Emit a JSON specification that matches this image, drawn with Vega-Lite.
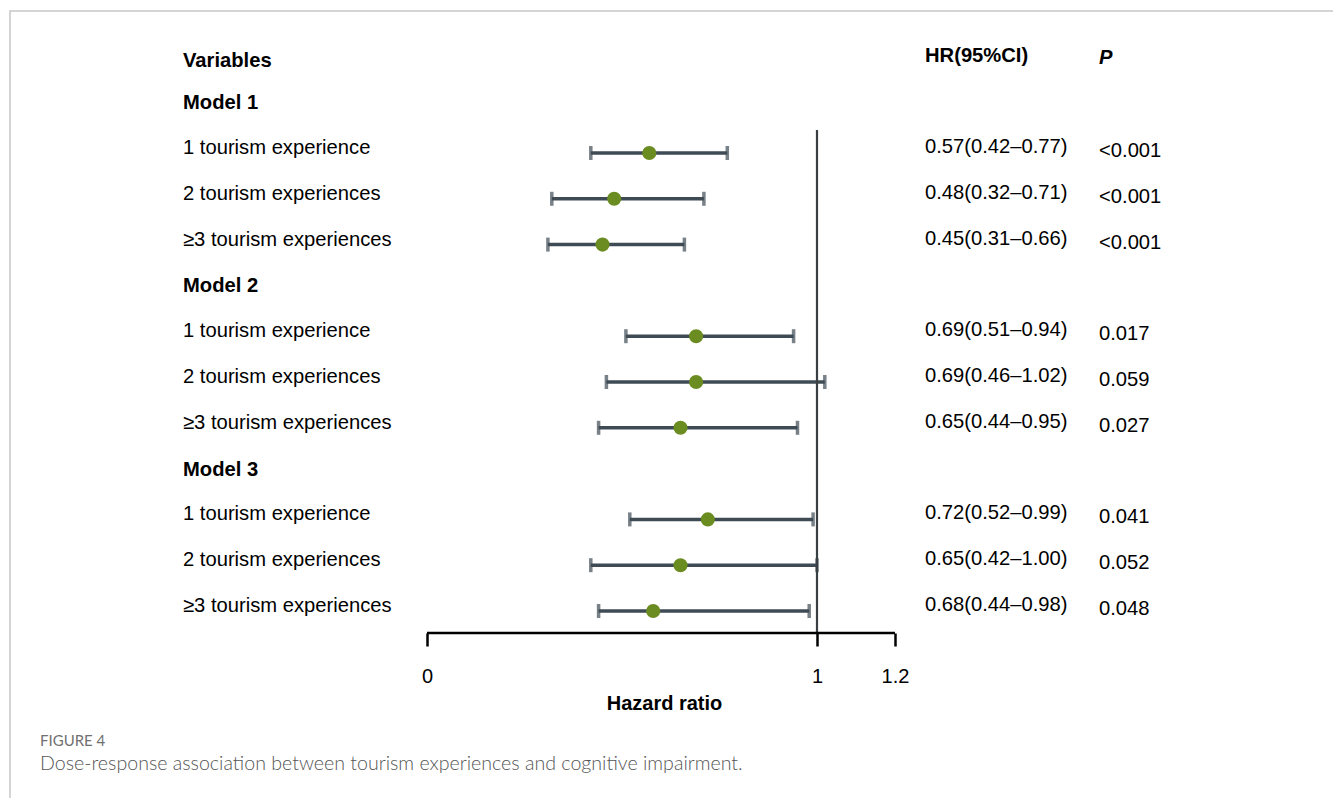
{
  "$schema": "https://vega.github.io/schema/vega-lite/v6.json",
  "width": 1330,
  "height": 800,
  "autosize": {"type": "none"},
  "padding": {"left": 10, "top": 11, "right": 0, "bottom": 0},
  "background": "white",
  "config": {
    "view": {"stroke": "#c8c8c8", "strokeWidth": 1.5},
    "font": "Liberation Sans",
    "text": {"font": "Liberation Sans", "fontSize": 20.2, "color": "#000000", "align": "left", "baseline": "middle"}
  },
  "datasets": {
    "rows": [
      {"model": "Model 1", "label": "1 tourism experience", "row": 0, "hr": 0.57, "lo": 0.42, "hi": 0.77, "hrci": "0.57(0.42–0.77)", "p": "<0.001"},
      {"model": "Model 1", "label": "2 tourism experiences", "row": 1, "hr": 0.48, "lo": 0.32, "hi": 0.71, "hrci": "0.48(0.32–0.71)", "p": "<0.001"},
      {"model": "Model 1", "label": "≥3 tourism experiences", "row": 2, "hr": 0.45, "lo": 0.31, "hi": 0.66, "hrci": "0.45(0.31–0.66)", "p": "<0.001"},
      {"model": "Model 2", "label": "1 tourism experience", "row": 4, "hr": 0.69, "lo": 0.51, "hi": 0.94, "hrci": "0.69(0.51–0.94)", "p": "0.017"},
      {"model": "Model 2", "label": "2 tourism experiences", "row": 5, "hr": 0.69, "lo": 0.46, "hi": 1.02, "hrci": "0.69(0.46–1.02)", "p": "0.059"},
      {"model": "Model 2", "label": "≥3 tourism experiences", "row": 6, "hr": 0.65, "lo": 0.44, "hi": 0.95, "hrci": "0.65(0.44–0.95)", "p": "0.027"},
      {"model": "Model 3", "label": "1 tourism experience", "row": 8, "hr": 0.72, "lo": 0.52, "hi": 0.99, "hrci": "0.72(0.52–0.99)", "p": "0.041"},
      {"model": "Model 3", "label": "2 tourism experiences", "row": 9, "hr": 0.65, "lo": 0.42, "hi": 1.00, "hrci": "0.65(0.42–1.00)", "p": "0.052"},
      {"model": "Model 3", "label": "≥3 tourism experiences", "row": 10, "hr": 0.58, "lo": 0.44, "hi": 0.98, "hrci": "0.68(0.44–0.98)", "p": "0.048"}
    ],
    "models": [
      {"text": "Model 1", "row": -1},
      {"text": "Model 2", "row": 3},
      {"text": "Model 3", "row": 7}
    ]
  },
  "layer": [
    {
      "data": {"name": "rows"},
      "mark": {"type": "rule", "color": "#3f4b54", "strokeWidth": 3.5},
      "encoding": {
        "x": {
          "field": "lo", "type": "quantitative",
          "scale": {"domain": [-1.06923, 2.34103], "nice": false, "zero": false},
          "axis": {
            "orient": "bottom", "offset": -178, "values": [0, 1, 1.2], "format": "~g",
            "domain": false, "grid": false, "ticks": true, "tickSize": 13, "tickWidth": 2.5, "tickColor": "#000000",
            "labelFontSize": 20, "labelColor": "#000000", "labelPadding": 20, "labelFlush": false, "labelOverlap": false,
            "labelFont": "Liberation Sans",
            "title": "Hazard ratio", "titleFontSize": 20, "titleFontWeight": "bold", "titleColor": "#000000",
            "titleFont": "Liberation Sans", "titlePadding": 7, "titleX": 654
          }
        },
        "x2": {"field": "hi"},
        "y": {
          "field": "row", "type": "quantitative",
          "scale": {"domain": [-3.1004, 14.3668], "reverse": true, "nice": false, "zero": false},
          "axis": null
        }
      }
    },
    {
      "data": {"name": "rows"},
      "mark": {"type": "tick", "orient": "vertical", "color": "#3f4b54", "size": 14, "thickness": 3.5},
      "encoding": {
        "x": {"field": "lo", "type": "quantitative"},
        "y": {"field": "row", "type": "quantitative"}
      }
    },
    {
      "data": {"name": "rows"},
      "mark": {"type": "tick", "orient": "vertical", "color": "#3f4b54", "size": 14, "thickness": 3.5},
      "encoding": {
        "x": {"field": "hi", "type": "quantitative"},
        "y": {"field": "row", "type": "quantitative"}
      }
    },
    {
      "data": {"values": [{"v": 1}]},
      "mark": {"type": "rule", "color": "#3a3f44", "strokeWidth": 2.2},
      "encoding": {
        "x": {"field": "v", "type": "quantitative"},
        "y": {"datum": -0.5, "type": "quantitative"},
        "y2": {"datum": 10.48}
      }
    },
    {
      "data": {"values": [{"a": 0, "b": 1.2}]},
      "mark": {"type": "rule", "color": "#000000", "strokeWidth": 2.5},
      "encoding": {
        "x": {"field": "a", "type": "quantitative"},
        "x2": {"field": "b"},
        "y": {"datum": 10.48, "type": "quantitative"}
      }
    },
    {
      "data": {"name": "rows"},
      "mark": {"type": "point", "filled": true, "shape": "circle", "color": "#6b8c21", "opacity": 1, "size": 200},
      "encoding": {
        "x": {"field": "hr", "type": "quantitative"},
        "y": {"field": "row", "type": "quantitative"}
      }
    },
    {
      "data": {"name": "rows"},
      "mark": {"type": "text", "dy": -5},
      "encoding": {
        "x": {"datum": -0.62564, "type": "quantitative"},
        "y": {"field": "row", "type": "quantitative"},
        "text": {"field": "label"}
      }
    },
    {
      "data": {"name": "rows"},
      "mark": {"type": "text", "dy": -6},
      "encoding": {
        "x": {"datum": 1.27692, "type": "quantitative"},
        "y": {"field": "row", "type": "quantitative"},
        "text": {"field": "hrci"}
      }
    },
    {
      "data": {"name": "rows"},
      "mark": {"type": "text", "dy": -2},
      "encoding": {
        "x": {"datum": 1.72308, "type": "quantitative"},
        "y": {"field": "row", "type": "quantitative"},
        "text": {"field": "p"}
      }
    },
    {
      "data": {"name": "models"},
      "mark": {"type": "text", "dy": -4, "fontWeight": "bold"},
      "encoding": {
        "x": {"datum": -0.62564, "type": "quantitative"},
        "y": {"field": "row", "type": "quantitative"},
        "text": {"field": "text"}
      }
    },
    {
      "data": {"values": [{"text": "Variables", "row": -2}]},
      "mark": {"type": "text", "dy": 0, "fontWeight": "bold"},
      "encoding": {
        "x": {"datum": -0.62564, "type": "quantitative"},
        "y": {"field": "row", "type": "quantitative"},
        "text": {"field": "text"}
      }
    },
    {
      "data": {"values": [{"text": "HR(95%CI)", "row": -2}]},
      "mark": {"type": "text", "dy": -5, "fontWeight": "bold"},
      "encoding": {
        "x": {"datum": 1.27692, "type": "quantitative"},
        "y": {"field": "row", "type": "quantitative"},
        "text": {"field": "text"}
      }
    },
    {
      "data": {"values": [{"text": "P", "row": -2}]},
      "mark": {"type": "text", "dy": -3, "fontWeight": "bold", "fontStyle": "italic"},
      "encoding": {
        "x": {"datum": 1.72308, "type": "quantitative"},
        "y": {"field": "row", "type": "quantitative"},
        "text": {"field": "text"}
      }
    },
    {
      "data": {"values": [{"text": "FIGURE 4", "row": 12.838}]},
      "mark": {"type": "text", "font": "Lato", "fontSize": 15, "color": "#707070"},
      "encoding": {
        "x": {"datum": -0.99231, "type": "quantitative"},
        "y": {"field": "row", "type": "quantitative"},
        "text": {"field": "text"}
      }
    },
    {
      "data": {"values": [{"text": "Dose-response association between tourism experiences and cognitive impairment.", "row": 13.341}]},
      "mark": {"type": "text", "font": "Lato", "fontSize": 19.6, "fontWeight": 300, "color": "#555555"},
      "encoding": {
        "x": {"datum": -0.99231, "type": "quantitative"},
        "y": {"field": "row", "type": "quantitative"},
        "text": {"field": "text"}
      }
    }
  ]
}
